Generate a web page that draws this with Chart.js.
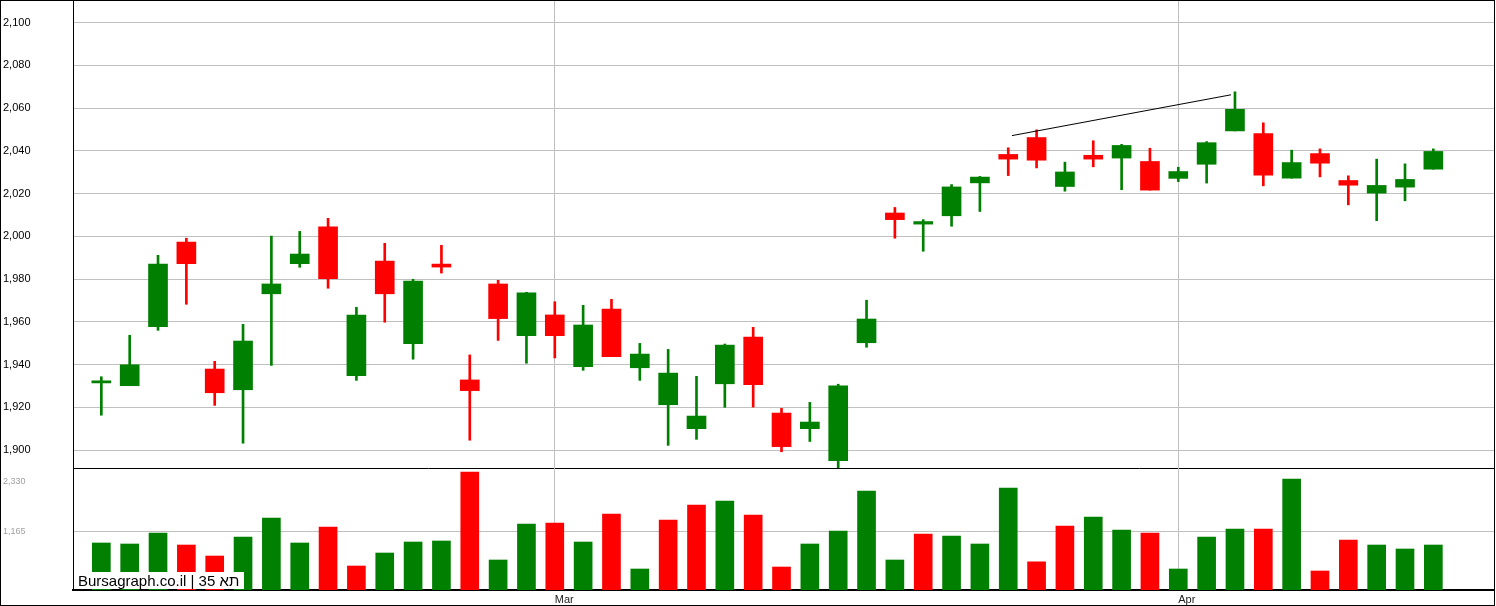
<!DOCTYPE html>
<html>
<head>
<meta charset="utf-8">
<script src="https://cdn.jsdelivr.net/npm/chart.js@4.4.1/dist/chart.umd.min.js"></script>
<style>
    body { margin: 0; background: #fff; }
    #frame { position: absolute; left: 0; top: 0; width: 1495px; height: 606px; border: 1px solid #000; box-sizing: border-box; pointer-events: none; }
    #priceChart { position: absolute; left: 0; top: 0; }
    #volumeChart { position: absolute; left: 0; top: 468px; }
</style>
</head>
<body>
<canvas id="priceChart" width="1494" height="469"></canvas>
<canvas id="volumeChart" width="1494" height="138"></canvas>
<div id="frame"></div>
<script>
// 蜡烛数据 (48 个交易日)
const opens  = [1931.4, 1930.1, 1957.7, 1997.3, 1937.9, 1928.2, 1973.1, 1987.2, 2004.4, 1934.8, 1988.4, 1949.8,
                1987.0, 1932.8, 1977.7, 1953.5, 1963.2, 1939.0, 1966.0, 1938.5, 1921.2, 1910.0, 1931.0, 1952.9,
                1917.3, 1910.0, 1895.0, 1950.2, 2010.9, 2005.7, 2009.6, 2025.0, 2038.3, 2046.2, 2023.3, 2037.9,
                2036.6, 2035.0, 2027.1, 2033.7, 2049.3, 2048.1, 2027.2, 2038.7, 2026.1, 2020.2, 2023.0, 2031.4];
const highs  = [1934.3, 1953.7, 1991.1, 1999.1, 1941.5, 1958.8, 2000.1, 2002.3, 2008.4, 1966.8, 1996.7, 1979.9,
                1995.8, 1944.5, 1979.4, 1973.8, 1969.4, 1967.7, 1970.5, 1949.9, 1947.1, 1934.5, 1949.6, 1957.4,
                1919.5, 1922.3, 1930.8, 1970.1, 2013.5, 2007.8, 2024.2, 2028.0, 2041.4, 2049.8, 2034.7, 2044.7,
                2043.0, 2041.2, 2032.3, 2044.3, 2067.6, 2053.1, 2040.3, 2040.9, 2028.3, 2036.1, 2033.9, 2040.9];
const lows   = [1916.3, 1930.1, 1956.0, 1968.2, 1920.9, 1903.2, 1939.6, 1985.5, 1975.7, 1932.6, 1959.8, 1942.5,
                1982.8, 1904.6, 1951.3, 1940.6, 1943.1, 1937.3, 1943.7, 1932.6, 1902.2, 1905.0, 1920.0, 1920.1,
                1899.2, 1904.0, 1890.8, 1948.1, 1999.1, 1993.0, 2004.7, 2011.6, 2028.4, 2032.0, 2021.1, 2032.5,
                2021.8, 2021.6, 2025.6, 2024.9, 2049.3, 2023.6, 2027.2, 2027.8, 2014.7, 2007.3, 2016.6, 2031.4];
const closes = [1932.4, 1939.9, 1987.0, 1987.2, 1926.8, 1951.0, 1977.7, 1991.7, 1980.2, 1963.2, 1973.1, 1979.1,
                1985.6, 1927.8, 1961.5, 1973.5, 1953.5, 1958.5, 1943.7, 1944.9, 1936.0, 1915.9, 1949.1, 1930.6,
                1901.6, 1913.1, 1930.0, 1961.3, 2007.8, 2006.9, 2023.1, 2027.7, 2036.1, 2035.6, 2030.1, 2036.1,
                2042.5, 2021.6, 2030.3, 2043.8, 2059.4, 2028.6, 2034.5, 2034.2, 2023.9, 2023.8, 2026.6, 2039.7];

// 成交量及涨跌 (1 = 涨)
const volumes  = [889, 865, 1125, 841, 581, 1030, 1479, 889, 1267, 345, 652, 912,
                  936, 2566, 487, 1337, 1361, 912, 1574, 274, 1432, 1786, 1881, 1550,
                  321, 865, 1172, 2117, 487, 1101, 1053, 865, 2188, 444, 1290, 1503,
                  1196, 1125, 274, 1030, 1219, 1219, 2401, 227, 959, 841, 747, 841];
const volumeUp = [1, 1, 1, 0, 0, 1, 1, 1, 0, 0, 1, 1,
                  1, 0, 1, 1, 0, 1, 0, 1, 0, 0, 1, 0,
                  0, 1, 1, 1, 1, 0, 1, 1, 1, 0, 0, 1,
                  1, 0, 1, 1, 1, 0, 1, 0, 0, 1, 1, 1];

const priceTicks = [1900, 1920, 1940, 1960, 1980, 2000, 2020, 2040, 2060, 2080, 2100];
const volumeTicks = [1165, 2330];
const monthTickPos = [17, 39];
const monthLabels = ['Mar', 'Apr'];

// 趋势线
const trendX = [33.13, 40.86];
const trendY = [2047.1, 2066.2];

const GREEN = '#008000';
const RED = '#ff0000';
const GRID = '#c0c0c0';
const FONT = '"Liberation Sans", Arial, sans-serif';

Chart.defaults.font.family = FONT;
Chart.defaults.animation = false;

const days = opens.map((_, i) => i + 1);
const candleColors = opens.map((o, i) => closes[i] >= o ? GREEN : RED);
const volumeColors = volumeUp.map(u => u ? GREEN : RED);

// 去掉刻度标签带来的额外留白
function noPad(s) {
    s.paddingTop = 0;
    s.paddingBottom = 0;
    s.paddingLeft = 0;
    s.paddingRight = 0;
}

function monthAxis(showLabels) {
    return {
        type: 'linear',
        min: 0,
        max: 50.14,
        offset: false,
        afterBuildTicks: s => { s.ticks = monthTickPos.map(v => ({ value: v })); },
        afterFit: s => { s.height = showLabels ? 16 : 1; noPad(s); },
        grid: { color: GRID, drawTicks: false, offset: false },
        border: { color: '#000', width: showLabels ? 2 : 1 },
        ticks: {
            display: showLabels,
            align: 'start',
            padding: 3,
            maxRotation: 0,
            autoSkip: false,
            color: '#222',
            font: { size: 11 },
            callback: v => monthLabels[monthTickPos.indexOf(v)]
        }
    };
}

const watermark = {
    id: 'watermark',
    afterDatasetsDraw(chart) {
        const { ctx, chartArea } = chart;
        ctx.save();
        ctx.fillStyle = '#fff';
        ctx.fillRect(chartArea.left + 1, chartArea.bottom - 18, 170, 17);
        ctx.fillStyle = '#000';
        ctx.font = '15px ' + FONT;
        ctx.textBaseline = 'alphabetic';
        ctx.fillText('Bursagraph.co.il | 35 תא', chartArea.left + 5, chartArea.bottom - 4);
        ctx.restore();
    }
};

new Chart(document.getElementById('priceChart'), {
    type: 'bar',
    data: {
        datasets: [
            {
                type: 'line',
                data: trendX.map((x, i) => ({ x, y: trendY[i] })),
                borderColor: '#000',
                borderWidth: 1,
                pointRadius: 0
            },
            {
                data: days.map((x, i) => ({ x, y: [opens[i], closes[i]] })),
                backgroundColor: candleColors,
                barThickness: 19,
                minBarLength: 2,
                grouped: false
            },
            {
                data: days.map((x, i) => ({ x, y: [lows[i], highs[i]] })),
                backgroundColor: candleColors,
                barThickness: 2,
                grouped: false
            }
        ]
    },
    options: {
        responsive: false,
        devicePixelRatio: 1,
        layout: { padding: { left: 3, right: 0, top: 0, bottom: 0 } },
        plugins: { legend: { display: false }, tooltip: { enabled: false } },
        scales: {
            x: monthAxis(false),
            y: {
                min: 1891.6,
                max: 2110.55,
                afterBuildTicks: s => { s.ticks = priceTicks.map(v => ({ value: v })); },
                afterFit: s => { s.width = 70; noPad(s); },
                grid: { color: GRID, drawTicks: false },
                border: { color: '#000' },
                ticks: {
                    crossAlign: 'far',
                    padding: 0,
                    color: '#000',
                    font: { size: 11 },
                    callback: v => v.toLocaleString('en-US')
                }
            }
        }
    }
});

new Chart(document.getElementById('volumeChart'), {
    type: 'bar',
    data: {
        datasets: [{
            data: days.map((x, i) => ({ x, y: volumes[i] })),
            backgroundColor: volumeColors,
            barThickness: 18,
            base: -222
        }]
    },
    options: {
        responsive: false,
        devicePixelRatio: 1,
        layout: { padding: { left: 3, right: 0, top: 0, bottom: 0 } },
        plugins: { legend: { display: false }, tooltip: { enabled: false } },
        scales: {
            x: monthAxis(true),
            y: {
                min: -222,
                max: 2661,
                afterBuildTicks: s => { s.ticks = volumeTicks.map(v => ({ value: v })); },
                afterFit: s => { s.width = 70; noPad(s); },
                grid: {
                    drawTicks: false,
                    color: c => (c.tick && c.tick.value === volumeTicks[0]) ? GRID : 'rgba(0,0,0,0)'
                },
                border: { color: '#000' },
                ticks: {
                    crossAlign: 'far',
                    padding: 0,
                    color: '#a0a0a0',
                    font: { size: 9 },
                    callback: v => v.toLocaleString('en-US')
                }
            }
        }
    },
    plugins: [watermark]
});
</script>
</body>
</html>
